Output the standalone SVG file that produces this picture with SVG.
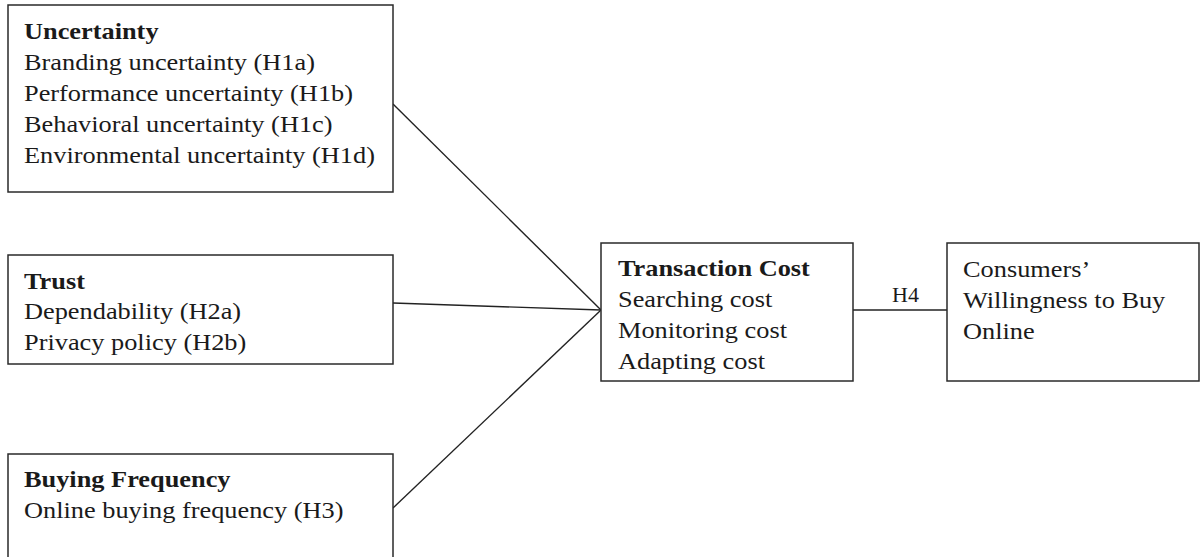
<svg xmlns="http://www.w3.org/2000/svg" width="1200" height="557" viewBox="0 0 1200 557">
<style>
.box{fill:#fff;stroke:#2a2a2a;stroke-width:1.5}
.t{font-family:"Liberation Serif","Times New Roman",serif;font-size:23px;fill:#1a1a1a}
.b{font-weight:bold}
.s{font-size:20px}
.c{stroke:#222;stroke-width:1.4;fill:none}
</style>
<rect width="1200" height="557" fill="#fff"/>
<g id="connectors">
<line class="c" x1="393" y1="104" x2="601" y2="310"/>
<line class="c" x1="393" y1="303" x2="601" y2="310"/>
<line class="c" x1="393" y1="508" x2="601" y2="310"/>
<line class="c" x1="853" y1="310" x2="947" y2="310"/>
<g transform="translate(892,302) scale(1.1,1)"><text class="t s" x="0" y="0">H4</text></g>
</g>
<g id="uncertainty">
<rect class="box" x="8" y="5" width="385" height="187"/>
<g transform="translate(24,0) scale(1.145,1)">
<text class="t b" x="0" y="39">Uncertainty</text>
<text class="t" x="0" y="70">Branding uncertainty (H1a)</text>
<text class="t" x="0" y="101">Performance uncertainty (H1b)</text>
<text class="t" x="0" y="132">Behavioral uncertainty (H1c)</text>
<text class="t" x="0" y="163">Environmental uncertainty (H1d)</text>
</g>
</g>
<g id="trust">
<rect class="box" x="8" y="255" width="385" height="109"/>
<g transform="translate(24,0) scale(1.145,1)">
<text class="t b" x="0" y="289">Trust</text>
<text class="t" x="0" y="319">Dependability (H2a)</text>
<text class="t" x="0" y="350">Privacy policy (H2b)</text>
</g>
</g>
<g id="buying-frequency">
<rect class="box" x="8" y="454" width="385" height="110"/>
<g transform="translate(24,0) scale(1.145,1)">
<text class="t b" x="0" y="487">Buying Frequency</text>
<text class="t" x="0" y="518">Online buying frequency (H3)</text>
</g>
</g>
<g id="transaction-cost">
<rect class="box" x="601" y="243" width="252" height="138"/>
<g transform="translate(618,0) scale(1.145,1)">
<text class="t b" x="0" y="276">Transaction Cost</text>
<text class="t" x="0" y="307">Searching cost</text>
<text class="t" x="0" y="338">Monitoring cost</text>
<text class="t" x="0" y="369">Adapting cost</text>
</g>
</g>
<g id="willingness">
<rect class="box" x="947" y="243" width="252" height="138"/>
<g transform="translate(963,0) scale(1.145,1)">
<text class="t" x="0" y="277">Consumers’</text>
<text class="t" x="0" y="308">Willingness to Buy</text>
<text class="t" x="0" y="339">Online</text>
</g>
</g>
</svg>
